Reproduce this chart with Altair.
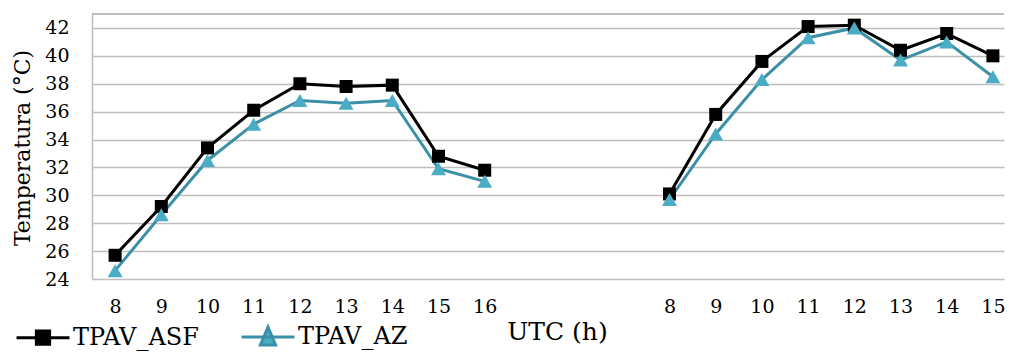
import json
import altair as alt
import pandas as pd

# ---- data ----
hours_day1 = [8, 9, 10, 11, 12, 13, 14, 15, 16]
hours_day2 = [8, 9, 10, 11, 12, 13, 14, 15]
gap_slots = 3  # empty categories between the two days

asf_day1 = [25.7, 29.2, 33.4, 36.1, 38.0, 37.8, 37.9, 32.8, 31.8]
az_day1 = [24.6, 28.6, 32.5, 35.1, 36.8, 36.6, 36.8, 31.9, 31.0]
asf_day2 = [30.1, 35.8, 39.6, 42.1, 42.2, 40.4, 41.6, 40.0]
az_day2 = [29.7, 34.4, 38.3, 41.3, 42.0, 39.7, 41.0, 38.5]

series_names = ["TPAV_ASF", "TPAV_AZ"]
y_ticks = [24, 26, 28, 30, 32, 34, 36, 38, 40, 42]

# ---- build table ----
rows = []
offset2 = len(hours_day1) + gap_slots
for day, hours, offset, asf, az in [
    ("d1", hours_day1, 0, asf_day1, az_day1),
    ("d2", hours_day2, offset2, asf_day2, az_day2),
]:
    for i, h in enumerate(hours):
        rows.append({"pos": offset + i, "hour": h, "day": day, "series": series_names[0], "temp": asf[i]})
        rows.append({"pos": offset + i, "hour": h, "day": day, "series": series_names[1], "temp": az[i]})
df = pd.DataFrame(rows)

label_arr = [str(h) for h in hours_day1] + [""] * gap_slots + [str(h) for h in hours_day2]
tick_pos = list(range(len(hours_day1))) + [offset2 + i for i in range(len(hours_day2))]
label_expr = json.dumps(label_arr) + "[datum.value]"

FONT = "DejaVu Serif"
GRID = "#BEBEBE"
BLACK = "#000000"
TEAL_LINE = "#3B90A8"
TEAL_MARK = "#4BACC6"
W, H = 912, 265

x_enc = alt.X(
    "pos:Q",
    scale=alt.Scale(domain=[-0.5, 19.24], nice=False, zero=False),
    axis=alt.Axis(
        values=tick_pos, labelExpr=label_expr, title="UTC (h)", grid=False,
        ticks=False, tickSize=0, domain=False, labelPadding=18,
        labelFont=FONT, labelFontSize=19, labelColor=BLACK,
        titleFont=FONT, titleFontSize=25, titleFontWeight="normal", titleColor=BLACK,
        titleX=465, titleY=52, titleAlign="center", titleBaseline="middle",
        labelFlush=False, labelOverlap=False,
    ),
)
y_enc = alt.Y(
    "temp:Q",
    scale=alt.Scale(domain=[24, 43], nice=False, zero=False),
    axis=alt.Axis(
        values=y_ticks, title="Temperatura (°C)", grid=True, gridColor=GRID, gridWidth=1.6,
        ticks=False, tickSize=0, domain=True, domainColor=GRID, domainWidth=1.6,
        labelPadding=23, labelFont=FONT, labelFontSize=19, labelColor=BLACK,
        titleFont=FONT, titleFontSize=22, titleFontWeight="normal", titleColor=BLACK,
        titleX=-70, titleY=133.5, titleAngle=270, titleAlign="center", titleBaseline="middle",
        labelFlush=False, labelOverlap=False,
    ),
)

base = alt.Chart(df)
asf_only = alt.datum.series == series_names[0]
az_only = alt.datum.series == series_names[1]

top_border = base.mark_rule(color=GRID, strokeWidth=1.6).encode(
    x=alt.value(0), x2=alt.value(W), y=alt.value(0)
)

line_asf = base.transform_filter(asf_only).mark_line(strokeWidth=3, color=BLACK).encode(
    x=x_enc, y=y_enc, detail="day:N"
)
line_az = base.transform_filter(az_only).mark_line(strokeWidth=3, color=TEAL_LINE).encode(
    x=x_enc, y=y_enc, detail="day:N"
)

squares = base.transform_filter(asf_only).mark_point(
    shape="square", filled=True, size=169, color=BLACK, opacity=1
).encode(x=x_enc, y=y_enc)

triangles = base.transform_filter(az_only).mark_point(
    shape="triangle-up", filled=True, size=225, color=TEAL_MARK, opacity=1
).encode(x=x_enc, y=y_enc)

sq_path = "M-4,0H4M-1,-1H1V1H-1Z"
tri_path = "M-4,0H4M0,-1.5L1.15,1.2L-1.15,1.2Z"
leg = alt.Legend(
    orient="none", legendX=-61, legendY=311, direction="horizontal",
    labelFont=FONT, labelFontSize=24, labelColor=BLACK, labelOffset=18,
    symbolSize=175, symbolStrokeWidth=3, symbolOpacity=1, columnPadding=36, padding=0,
)
# legend-only layer: its points sit off-canvas, only the legend shows
legend_layer = base.mark_point(size=175, strokeWidth=3, opacity=1).encode(
    x=alt.value(-3000), y=alt.value(-3000),
    fill=alt.Fill("series:N", title=None, scale=alt.Scale(domain=series_names, range=[BLACK, TEAL_MARK]), legend=leg),
    stroke=alt.Stroke("series:N", title=None, scale=alt.Scale(domain=series_names, range=[BLACK, TEAL_LINE]), legend=leg),
    shape=alt.Shape("series:N", title=None, scale=alt.Scale(domain=series_names, range=[sq_path, tri_path]), legend=leg),
)

chart = alt.layer(top_border, line_asf, line_az, squares, triangles, legend_layer).properties(
    width=W, height=H,
    autosize=alt.AutoSizeParams(type="none"),
    padding={"left": 84, "top": 6, "right": 1, "bottom": 72},
).configure_view(strokeWidth=0)

chart.save("out.html", embed_options={"renderer": "svg", "actions": False})
